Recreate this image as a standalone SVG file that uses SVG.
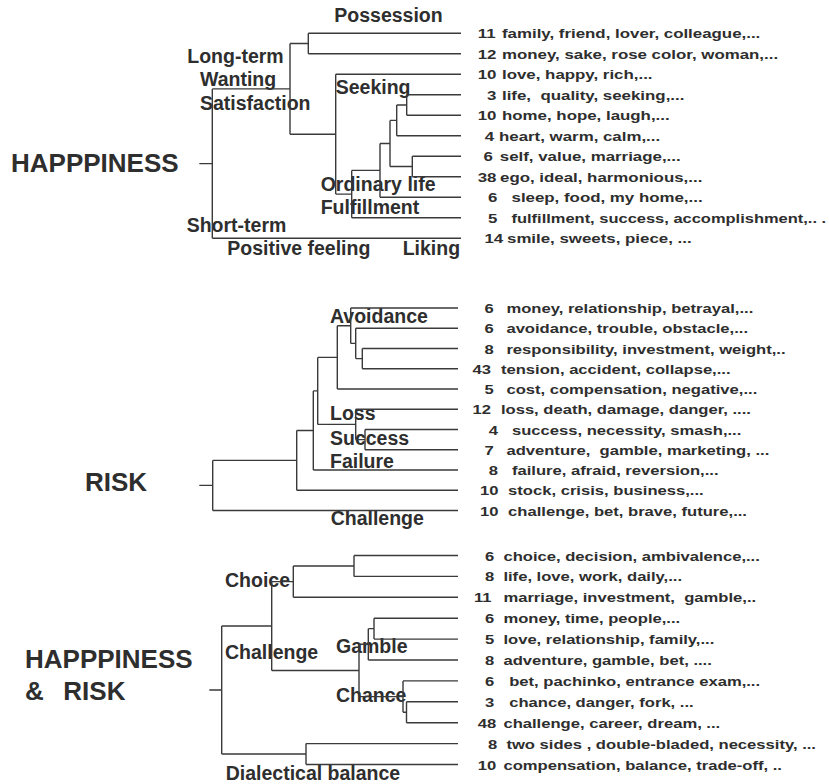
<svg xmlns="http://www.w3.org/2000/svg" width="829" height="784" viewBox="0 0 829 784">
<style>
.ln{fill:none;stroke:#3a3a3a;stroke-width:1.4}
.ttl{font-family:"Liberation Sans",Arial,sans-serif;font-weight:bold;font-size:26px;fill:#2e2e2e}
.lbl{font-family:"Liberation Sans",Arial,sans-serif;font-weight:bold;font-size:19.5px;fill:#2e2e2e}
.lf{font-family:"Liberation Sans",Arial,sans-serif;font-weight:bold;font-size:13.5px;fill:#2e2e2e;white-space:pre}
</style>
<rect width="829" height="784" fill="#ffffff"/>

<!-- ===== HAPPINESS ===== -->
<g id="happiness-title"><text class="ttl" x="11" y="171.7">HAPPPINESS</text></g>
<g id="happiness-labels">
<text class="lbl" x="334.3" y="21.7">Possession</text>
<text class="lbl" x="187.3" y="63.3">Long-term</text>
<text class="lbl" x="200" y="86">Wanting</text>
<text class="lbl" x="200" y="110">Satisfaction</text>
<text class="lbl" x="335.7" y="94">Seeking</text>
<text class="lbl" x="320.7" y="191">Ordinary life</text>
<text class="lbl" x="320.7" y="214">Fulfillment</text>
<text class="lbl" x="186.7" y="231.7">Short-term</text>
<text class="lbl" x="227.3" y="255">Positive feeling</text>
<text class="lbl" x="402.7" y="255">Liking</text>
</g>
<g id="happiness-leaves">
<g id="h1"><text class="lf" transform="translate(477.7,38.3) scale(1.25,1)">11</text><text class="lf" transform="translate(502,38.3) scale(1.25,1)">family, friend, lover, colleague,...</text></g>
<g id="h2"><text class="lf" transform="translate(477.7,58.8) scale(1.25,1)">12</text><text class="lf" transform="translate(502,58.8) scale(1.25,1)">money, sake, rose color, woman,...</text></g>
<g id="h3"><text class="lf" transform="translate(477.7,79.3) scale(1.25,1)">10</text><text class="lf" transform="translate(502,79.3) scale(1.25,1)">love, happy, rich,...</text></g>
<g id="h4"><text class="lf" transform="translate(487,99.8) scale(1.25,1)">3</text><text class="lf" transform="translate(502,99.8) scale(1.25,1)">life,  quality, seeking,...</text></g>
<g id="h5"><text class="lf" transform="translate(477.7,120.3) scale(1.25,1)">10</text><text class="lf" transform="translate(502,120.3) scale(1.25,1)">home, hope, laugh,...</text></g>
<g id="h6"><text class="lf" transform="translate(484.7,140.8) scale(1.25,1)">4</text><text class="lf" transform="translate(499,140.8) scale(1.25,1)">heart, warm, calm,...</text></g>
<g id="h7"><text class="lf" transform="translate(483.6,161.3) scale(1.25,1)">6</text><text class="lf" transform="translate(499.8,161.3) scale(1.25,1)">self, value, marriage,...</text></g>
<g id="h8"><text class="lf" transform="translate(477.7,181.8) scale(1.25,1)">38</text><text class="lf" transform="translate(500,181.8) scale(1.25,1)">ego, ideal, harmonious,...</text></g>
<g id="h9"><text class="lf" transform="translate(488,202.3) scale(1.25,1)">6</text><text class="lf" transform="translate(511.5,202.3) scale(1.25,1)">sleep, food, my home,...</text></g>
<g id="h10"><text class="lf" transform="translate(488,222.8) scale(1.25,1)">5</text><text class="lf" transform="translate(511.5,222.8) scale(1.22,1)">fulfillment, success, accomplishment,.. .</text></g>
<g id="h11"><text class="lf" transform="translate(484.4,243.3) scale(1.25,1)">14</text><text class="lf" transform="translate(507,243.3) scale(1.25,1)">smile, sweets, piece, ...</text></g>
</g>

<!-- ===== RISK ===== -->
<g id="risk-title"><text class="ttl" x="85" y="490.7">RISK</text></g>
<g id="risk-labels">
<text class="lbl" x="330" y="323.3">Avoidance</text>
<text class="lbl" x="330" y="420">Loss</text>
<text class="lbl" x="330" y="445">Success</text>
<text class="lbl" x="330" y="468.3">Failure</text>
<text class="lbl" x="330.7" y="525">Challenge</text>
</g>
<g id="risk-leaves">
<g id="r1"><text class="lf" transform="translate(484.4,313) scale(1.23,1)">6</text><text class="lf" transform="translate(506.4,313) scale(1.23,1)">money, relationship, betrayal,...</text></g>
<g id="r2"><text class="lf" transform="translate(484.4,333.25) scale(1.23,1)">6</text><text class="lf" transform="translate(506.4,333.25) scale(1.23,1)">avoidance, trouble, obstacle,...</text></g>
<g id="r3"><text class="lf" transform="translate(484.4,353.5) scale(1.23,1)">8</text><text class="lf" transform="translate(506.4,353.5) scale(1.23,1)">responsibility, investment, weight,..</text></g>
<g id="r4"><text class="lf" transform="translate(472.6,373.75) scale(1.23,1)">43</text><text class="lf" transform="translate(500.9,373.75) scale(1.23,1)">tension, accident, collapse,...</text></g>
<g id="r5"><text class="lf" transform="translate(484.4,394) scale(1.23,1)">5</text><text class="lf" transform="translate(506.4,394) scale(1.23,1)">cost, compensation, negative,...</text></g>
<g id="r6"><text class="lf" transform="translate(472.6,414.25) scale(1.23,1)">12</text><text class="lf" transform="translate(500.9,414.25) scale(1.23,1)">loss, death, damage, danger, ....</text></g>
<g id="r7"><text class="lf" transform="translate(488.8,434.5) scale(1.23,1)">4</text><text class="lf" transform="translate(511.9,434.5) scale(1.23,1)">success, necessity, smash,...</text></g>
<g id="r8"><text class="lf" transform="translate(484.4,454.75) scale(1.23,1)">7</text><text class="lf" transform="translate(506.4,454.75) scale(1.23,1)">adventure,  gamble, marketing, ...</text></g>
<g id="r9"><text class="lf" transform="translate(488.8,475) scale(1.23,1)">8</text><text class="lf" transform="translate(511.9,475) scale(1.23,1)">failure, afraid, reversion,...</text></g>
<g id="r10"><text class="lf" transform="translate(480,495.25) scale(1.23,1)">10</text><text class="lf" transform="translate(508.1,495.25) scale(1.23,1)">stock, crisis, business,...</text></g>
<g id="r11"><text class="lf" transform="translate(480,515.5) scale(1.23,1)">10</text><text class="lf" transform="translate(508.1,515.5) scale(1.23,1)">challenge, bet, brave, future,...</text></g>
</g>

<!-- ===== HAPPINESS & RISK ===== -->
<g id="hr-title"><text class="ttl" x="25" y="668.3">HAPPPINESS</text><text class="ttl" y="700"><tspan x="25">&amp;</tspan><tspan x="63.3">RISK</tspan></text></g>
<g id="hr-labels">
<text class="lbl" x="225" y="586.7">Choice</text>
<text class="lbl" x="225" y="659.3">Challenge</text>
<text class="lbl" x="336" y="653.3">Gamble</text>
<text class="lbl" x="336" y="701.7">Chance</text>
<text class="lbl" x="225.7" y="780">Dialectical balance</text>
</g>
<g id="hr-leaves">
<g id="b1"><text class="lf" transform="translate(485,560.5) scale(1.23,1)">6</text><text class="lf" transform="translate(503.4,560.5) scale(1.23,1)">choice, decision, ambivalence,...</text></g>
<g id="b2"><text class="lf" transform="translate(485,581.4) scale(1.23,1)">8</text><text class="lf" transform="translate(503.4,581.4) scale(1.23,1)">life, love, work, daily,...</text></g>
<g id="b3"><text class="lf" transform="translate(474,602.3) scale(1.23,1)">11</text><text class="lf" transform="translate(503.4,602.3) scale(1.23,1)">marriage, investment,  gamble,..</text></g>
<g id="b4"><text class="lf" transform="translate(485,623.2) scale(1.23,1)">6</text><text class="lf" transform="translate(503.4,623.2) scale(1.23,1)">money, time, people,...</text></g>
<g id="b5"><text class="lf" transform="translate(485,644.1) scale(1.23,1)">5</text><text class="lf" transform="translate(503.4,644.1) scale(1.23,1)">love, relationship, family,...</text></g>
<g id="b6"><text class="lf" transform="translate(485,665) scale(1.23,1)">8</text><text class="lf" transform="translate(503.4,665) scale(1.23,1)">adventure, gamble, bet, ....</text></g>
<g id="b7"><text class="lf" transform="translate(485,685.9) scale(1.23,1)">6</text><text class="lf" transform="translate(509.2,685.9) scale(1.23,1)">bet, pachinko, entrance exam,...</text></g>
<g id="b8"><text class="lf" transform="translate(485,706.8) scale(1.23,1)">3</text><text class="lf" transform="translate(509.2,706.8) scale(1.23,1)">chance, danger, fork, ...</text></g>
<g id="b9"><text class="lf" transform="translate(477.8,727.7) scale(1.23,1)">48</text><text class="lf" transform="translate(503.4,727.7) scale(1.23,1)">challenge, career, dream, ...</text></g>
<g id="b10"><text class="lf" transform="translate(488,748.6) scale(1.23,1)">8</text><text class="lf" transform="translate(506.4,748.6) scale(1.23,1)">two sides , double-bladed, necessity, ...</text></g>
<g id="b11"><text class="lf" transform="translate(477.8,769.5) scale(1.23,1)">10</text><text class="lf" transform="translate(503.4,769.5) scale(1.23,1)">compensation, balance, trade-off, ..</text></g>
</g>

<!-- ===== connectors ===== -->
<g id="connectors" class="ln">
<path class="ln" d="M199.3,163.6H212.3 M212.3,88.9V238.3 M212.3,88.9H290 M212.3,238.3H461
M290,43.55V134.2 M290,43.55H308.3 M308.3,33.3V53.8 M308.3,33.3H461 M308.3,53.8H461
M290,134.2H335.7 M335.7,74.3V194.1 M335.7,74.3H461 M335.7,194.1H351.7
M351.7,170.4V217.8 M351.7,217.8H461 M351.7,170.4H380 M380,143.5V197.3 M380,197.3H461
M380,143.5H390 M390,120.4V166.55 M390,120.4H396.7 M396.7,105.05V135.8 M396.7,135.8H461
M396.7,105.05H406.7 M406.7,94.8V115.3 M406.7,94.8H461 M406.7,115.3H461
M390,166.55H412.3 M412.3,156.3V176.8 M412.3,156.3H461 M412.3,176.8H461"/>
<path class="ln" d="M199.3,485.4H212.7 M212.7,460.4V510.5 M212.7,460.4H296.7 M212.7,510.5H458
M296.7,430.5V490.25 M296.7,490.25H458 M296.7,430.5H313.3 M313.3,390.9V470 M313.3,470H458
M313.3,390.9H317.7 M317.7,357.4V424.4 M317.7,357.4H337.3 M337.3,325.7V389 M337.3,389H458
M337.3,325.7H350.7 M350.7,308V343.4 M350.7,308H458 M350.7,343.4H355.7 M355.7,328.25V358.6 M355.7,328.25H458
M355.7,358.6H362.3 M362.3,348.5V368.75 M362.3,348.5H458 M362.3,368.75H458
M317.7,424.4H355.7 M355.7,409.25V439.6 M355.7,409.25H458 M355.7,439.6H365 M365,429.5V449.75 M365,429.5H458 M365,449.75H458"/>
<path class="ln" d="M209.3,690H221.7 M221.7,626V754.05 M221.7,626H271.7 M221.7,754.05H306
M306,743.6V764.5 M306,743.6H458 M306,764.5H458
M271.7,581.6V670.45 M271.7,581.6H293.3 M293.3,565.95V597.3 M293.3,597.3H458 M293.3,565.95H354
M354,555.5V576.4 M354,555.5H458 M354,576.4H458
M271.7,670.45H359 M359,644.3V696.6 M359,644.3H368.3 M368.3,628.65V660 M368.3,660H458
M368.3,628.65H374 M374,618.2V639.1 M374,618.2H458 M374,639.1H458
M359,696.6H403 M403,680.9V712.25 M403,680.9H458 M403,712.25H406.5 M406.5,701.8V722.7 M406.5,701.8H458 M406.5,722.7H458"/>
</g>
</svg>
